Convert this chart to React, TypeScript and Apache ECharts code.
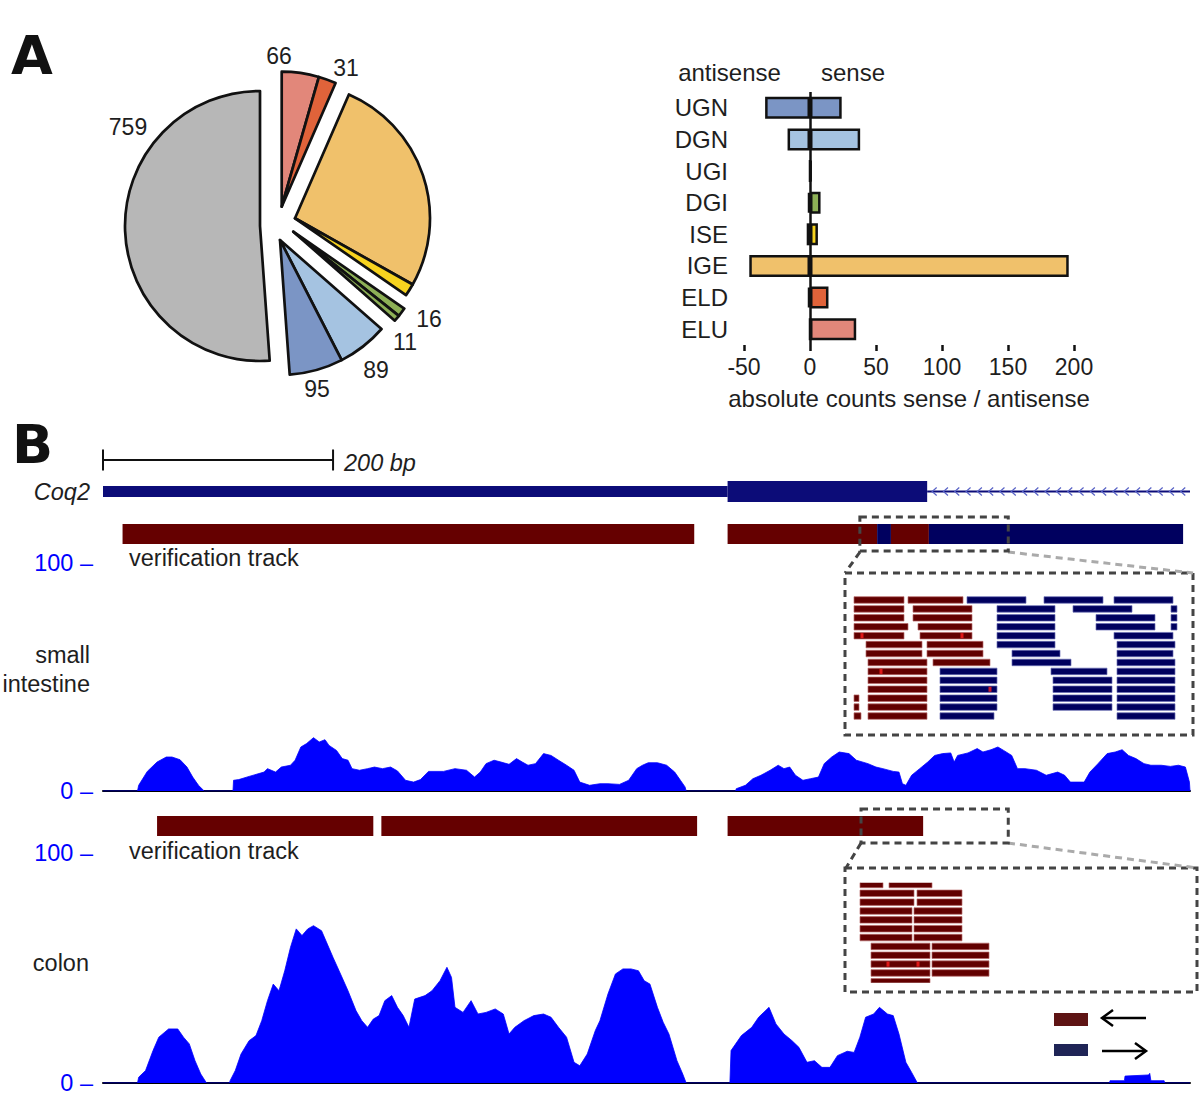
import React, { useEffect, useRef } from 'react';
import * as echarts from 'echarts';

const FONT = '"Liberation Sans", Arial, Helvetica, sans-serif';
const TEXT = '#1e1e1e';
const GENE_BLUE = '#0c0c78';
const VERIF_RED = '#650000';
const VERIF_BLUE = '#00005f';
const COV_BLUE = '#0000ff';

// ---------- Panel A: pie ----------
const pieNames = ['ELU', 'ELD', 'IGE', 'ISE', 'DGI', 'UGI', 'DGN', 'UGN', 'other'];
const pieValues = [66, 31, 395, 22, 16, 11, 89, 95, 759];
const pieShowLabel = [true, true, false, false, true, true, true, true, true];
const pieGroups = [[0, 1], [2, 3], [4, 5], [6, 7], [8]];

// ---------- Panel A: bars ----------
const barCategories = ['UGN', 'DGN', 'UGI', 'DGI', 'ISE', 'IGE', 'ELD', 'ELU'];
const antisenseCounts = [-34, -17, 0, -1.5, -2.5, -46, -1.5, 0];
const senseCounts = [24, 38, 1, 8, 6, 196, 14, 35];
const countAxis = { min: -50, max: 200, interval: 50 };

const catColors: Record<string, string> = {
  UGN: '#7b95c5', DGN: '#a5c3e1', UGI: '#8db056', DGI: '#8db056', ISE: '#f7d31f',
  IGE: '#f0c16b', ELD: '#e0633a', ELU: '#e2877a', other: '#b7b7b7',
};

// ---------- Panel B: genome tracks (bp) ----------
const regionLength = 945;
const scaleBar = [[0, 200]];
const geneStart = [0, 543, 716.5];
const geneEnd = [543, 716.5, 945];
const geneKind = [0, 1, 2]; // 0 UTR, 1 CDS, 2 intron
const intestineVerif = [[17, 514, 0], [543, 673, 0], [673, 685, 1], [685, 718, 0], [718, 939, 1]];
const colonVerif = [[47, 235, 0], [242, 516.5, 0], [543, 713, 0]];
const intestineWindow = [[658, 787]];
const colonWindow = [[659, 787]];

const intestineCoverage = [
  [0, 0], [30, 0], [31, 2.5], [38.5, 8.6], [47, 12.7], [55, 14.9], [60, 14.9], [67, 13.7], [73, 10.5], [78, 6.1], [83, 2.5], [88, 0],
  [113, 0], [113.5, 4.7], [118, 5], [127, 6.4], [140, 8.3], [143, 9.8], [150, 8.3], [155, 10.5], [163, 11.3], [167, 13.5], [172, 19.3],
  [177, 20.8], [183, 23.4], [188, 21.5], [193, 22.5], [196.5, 20], [203, 17.8], [208, 14.2], [213, 13.5], [216.5, 9.8], [223, 9.1],
  [230, 9.8], [236, 10.5], [243, 9.8], [250, 10.5], [256, 8.8], [263, 4.7], [270, 3.9], [276, 5], [283, 8.6], [296, 8.6], [306, 9.8],
  [316, 9.1], [323, 6.1], [328, 8.3], [333, 12], [340, 13.5], [346, 12.7], [353, 11.7], [359.5, 14.2], [364.5, 12.7], [369.5, 11.3],
  [376, 12], [383, 16.4], [389.5, 15.6], [396, 13.5], [403, 11.3], [409.5, 9.1], [414.5, 3.9], [423, 2.5], [432, 3.2], [439, 3.2],
  [449, 2.9], [457, 4.7], [464, 9.8], [469, 11.3], [474, 12.4], [482, 12.4], [490, 11.3], [497, 8.3], [502, 4.7], [506, 1.8], [507, 0],
  [550, 0], [550.5, 1], [558.5, 2.5], [565, 5.4], [572, 6.9], [580, 9.1], [587, 11.3], [592, 9.8], [597, 10.5], [602, 6.9], [608.5, 4.7],
  [615, 5.4], [622, 6.1], [627, 12], [633.5, 14.9], [640, 17.1], [648.5, 16.4], [655, 13.5], [665, 12], [672, 10.5], [678, 9.8],
  [687, 8.6], [692, 8.3], [695, 3.2], [698, 2.5], [703, 6.9], [710, 9.8], [717, 12.7], [723, 15.6], [730, 16.4], [737, 16.7], [740, 12.7],
  [743, 15.6], [752, 16.7], [760, 18.6], [765, 17.1], [772, 18.1], [778, 19.3], [783, 17.8], [790, 15.6], [795, 9.8], [801.5, 9.8],
  [811.5, 9.1], [820, 6.9], [830, 8.3], [836, 6.9], [841, 3.9], [853, 3.9], [858, 8.3], [865, 12], [873, 16.4], [880, 17.1], [886, 18.1],
  [891.5, 15.6], [898, 14.2], [905, 12], [911, 11.3], [920, 11.3], [928, 10.8], [935, 11.3], [941, 10.5], [944.5, 3.9], [945, 0],
];

const colonCoverage = [
  [0, 0], [30, 0], [31, 2.5], [37, 5.4], [43.5, 14.1], [48.5, 19.9], [57, 23.5], [65, 23.5], [70, 19.9], [75, 17], [80, 9.7], [85, 3.9], [90, 0],
  [110, 0], [110.5, 1], [115, 5.4], [120, 12.6], [127, 18.4], [133, 20.6], [138, 27.1], [143, 35.8], [148, 43], [153, 40.1], [158, 48.8],
  [163, 59], [168, 67], [173, 64.1], [178, 67], [183, 68.4], [190, 66.2], [195, 60.4], [200, 54.6], [206.5, 47.4], [213, 40.1], [220, 31.4],
  [225, 27.1], [230, 24.2], [235, 27.8], [240, 29.3], [245, 35.8], [251, 38], [256, 32.9], [261, 29.3], [266, 24.2], [271, 36.5], [280, 38],
  [286, 40.1], [293, 44.5], [299, 50.3], [303, 45.9], [306, 32.9], [313, 30.7], [320, 35.8], [326, 30], [333, 30.7], [341, 32.2], [348, 30],
  [353, 21.3], [358, 24.2], [366, 27.1], [374.5, 29.3], [383, 30], [389.5, 28.6], [396, 24.2], [403, 19.9], [409.5, 9], [414.5, 7.5],
  [421, 12.6], [428, 22.8], [432, 27.1], [439, 38.7], [445.5, 47.4], [452, 49.6], [459, 49.6], [465.5, 48.8], [470.5, 44.5], [475.5, 43],
  [482, 32.9], [487, 26.4], [492, 21.3], [499, 9.7], [504, 3.9], [507, 0],
  [545, 0], [546, 14.1], [555, 20.6], [564, 24.2], [570, 28.6], [579, 32.9], [585, 25.7], [592, 21.3], [599, 18.4], [605, 15.5], [612, 9],
  [618.5, 9.7], [625, 6.8], [632, 6.8], [638.5, 11.9], [647, 13.8], [653, 13.3], [658, 19.9], [663, 28.6], [670, 30], [675, 32.9], [682, 30],
  [687, 29.3], [692, 21.3], [698, 9], [703, 4.6], [708, 0],
  [875, 0], [875.5, 1], [888, 1], [888.5, 3], [909, 3.5], [910, 4.2], [911, 1], [922.5, 1], [923, 0], [945, 0],
];

// inset reads: [start, end, row, strand] (strand 0 = reverse/red, 1 = forward/blue), positions within zoom window
const intestineReads = [
  [14, 64, 0, 0], [68, 123, 0, 0], [127, 186, 0, 1], [204, 263, 0, 1], [274, 333, 0, 1],
  [14, 64, 1, 0], [73, 132, 1, 0], [157, 215, 1, 1], [233, 292, 1, 1], [331, 337, 1, 1],
  [14, 64, 2, 0], [73, 132, 2, 0], [157, 215, 2, 1], [256, 315, 2, 1], [331, 337, 2, 1],
  [14, 68, 3, 0], [78, 132, 3, 0], [157, 215, 3, 1], [256, 315, 3, 1], [331, 337, 3, 1],
  [14, 64, 4, 0], [80, 132, 4, 0], [157, 215, 4, 1], [274, 333, 4, 1],
  [26, 82, 5, 0], [87, 143, 5, 0], [157, 215, 5, 1], [277, 335, 5, 1],
  [26, 82, 6, 0], [87, 143, 6, 0], [172, 220, 6, 1], [277, 333, 6, 1],
  [28, 87, 7, 0], [93, 150, 7, 0], [172, 231, 7, 1], [277, 335, 7, 1],
  [28, 87, 8, 0], [100, 157, 8, 1], [211, 267, 8, 1], [277, 335, 8, 1],
  [28, 87, 9, 0], [100, 157, 9, 1], [213, 272, 9, 1], [277, 335, 9, 1],
  [28, 87, 10, 0], [100, 157, 10, 1], [213, 272, 10, 1], [277, 335, 10, 1],
  [14, 19, 11, 0], [28, 87, 11, 0], [100, 157, 11, 1], [213, 272, 11, 1], [277, 335, 11, 1],
  [14, 19, 12, 0], [28, 87, 12, 0], [100, 157, 12, 1], [213, 272, 12, 1], [277, 335, 12, 1],
  [14, 21, 13, 0], [28, 87, 13, 0], [100, 154, 13, 1], [277, 335, 13, 1],
];
const intestineMismatches = [[22, 4], [122, 4], [41, 8], [150, 10]];

const colonReads = [
  [20, 43, 0, 0], [49, 92, 0, 0],
  [20, 74, 1, 0], [77, 122, 1, 0],
  [20, 74, 2, 0], [77, 122, 2, 0],
  [20, 72, 3, 0], [74, 122, 3, 0],
  [20, 72, 4, 0], [74, 122, 4, 0],
  [20, 72, 5, 0], [74, 122, 5, 0],
  [20, 72, 6, 0], [74, 122, 6, 0],
  [31, 90, 7, 0], [92, 149, 7, 0],
  [31, 90, 8, 0], [92, 149, 8, 0],
  [31, 90, 9, 0], [92, 149, 9, 0],
  [31, 90, 10, 0], [92, 149, 10, 0],
  [31, 90, 11, 0],
];
const colonMismatches = [[48, 9], [78, 9]];

// ---------- layout (not data) ----------
const PIE_R = 135;
const pieGroupCenters = [[281.7, 206.7], [295, 218.3], [293.3, 231.7], [280, 240], [260, 226]];
const pieLabelPos: Record<string, [number, number]> = {
  ELU: [279, 56], ELD: [346, 68], DGI: [429, 319], UGI: [405, 342], DGN: [376, 370], UGN: [317, 389], other: [128, 127],
};

function txt(text: string, x: number, y: number, opts: any = {}) {
  const align = opts.align || 'left';
  return {
    type: 'text', x, y, silent: true,
    style: {
      text, fill: opts.fill || TEXT, fontSize: opts.fontSize || 24, fontFamily: opts.fontFamily || FONT,
      fontWeight: opts.fontWeight || 'normal', fontStyle: opts.fontStyle || 'normal',
      align, textAlign: align, verticalAlign: 'middle', textVerticalAlign: 'middle',
    },
  };
}

const dashDark = { fill: 'none', stroke: '#444', lineWidth: 3, lineDash: [7, 5] };
const dashLight = { fill: 'none', stroke: '#aaa', lineWidth: 3, lineDash: [7, 5] };

export default function App() {
  const ref = useRef<HTMLDivElement>(null);
  useEffect(() => {
    if (!ref.current) return;
    const chart = echarts.init(ref.current, undefined, { renderer: 'svg' });

    const genomeX = (g: number, show = false) => ({
      type: 'value', gridIndex: g, min: 0, max: regionLength, show,
      axisLine: { show, onZero: false, lineStyle: { color: '#000', width: 2 } },
      axisTick: { show: false }, axisLabel: { show: false }, splitLine: { show: false },
    });
    const hiddenY = (g: number, min = 0, max = 1, inverse = false) => ({
      type: 'value', gridIndex: g, min, max, inverse, show: false, splitLine: { show: false },
    });
    const coverageY = (g: number) => ({
      type: 'value', gridIndex: g, min: 0, max: 100, interval: 100,
      axisLine: { show: false }, axisTick: { show: false }, splitLine: { show: false },
      axisLabel: { formatter: '{value} –', color: COV_BLUE, fontSize: 23.5, fontFamily: FONT, margin: 10, showMinLabel: true, showMaxLabel: true },
    });

    const rectTrack = (xi: number, data: number[][]) => ({
      type: 'custom', xAxisIndex: xi, yAxisIndex: xi, silent: true, data,
      renderItem: (params: any, api: any) => {
        const a = api.coord([api.value(0), 0]);
        const b = api.coord([api.value(1), 0]);
        const cs = params.coordSys;
        return {
          type: 'rect', shape: { x: a[0], y: cs.y, width: b[0] - a[0], height: cs.height },
          style: { fill: api.value(2) === 1 ? VERIF_BLUE : VERIF_RED },
        };
      },
    });
    const windowBox = (xi: number, data: number[][]) => ({
      type: 'custom', xAxisIndex: xi, yAxisIndex: xi, silent: true, data, z: 5,
      renderItem: (params: any, api: any) => {
        const a = api.coord([api.value(0), 0]);
        const b = api.coord([api.value(1), 0]);
        const cs = params.coordSys;
        return {
          type: 'rect', shape: { x: a[0], y: cs.y - 7, width: b[0] - a[0], height: cs.height + 14 },
          style: dashDark,
        };
      },
    });
    const readTrack = (xi: number, data: number[][]) => ({
      type: 'custom', xAxisIndex: xi, yAxisIndex: xi, silent: true, clip: true, data,
      renderItem: (params: any, api: any) => {
        const row = api.value(2);
        const a = api.coord([api.value(0), row]);
        const b = api.coord([api.value(1), row]);
        const fwd = api.value(3) === 1;
        const h = 6.5;
        return {
          type: 'rect', shape: { x: a[0], y: a[1] - h / 2, width: b[0] - a[0], height: h },
          style: { fill: fwd ? '#00005e' : '#620000', stroke: fwd ? '#6a6fb5' : '#b86a6a', lineWidth: 0.7 },
        };
      },
    });
    const mismatch = (xi: number, data: number[][]) => ({
      type: 'scatter', xAxisIndex: xi, yAxisIndex: xi, silent: true, data, symbol: 'rect', symbolSize: [3, 5],
      itemStyle: { color: '#ff1f1f' }, z: 6,
    });
    const coverage = (xi: number, data: number[][]) => ({
      type: 'line', xAxisIndex: xi, yAxisIndex: xi, silent: true, data, symbol: 'none',
      lineStyle: { width: 0.8, color: COV_BLUE }, areaStyle: { color: COV_BLUE, opacity: 1 }, z: 3,
    });

    const pieSeries = pieGroups.map((grp, gi) => ({
      type: 'pie', center: pieGroupCenters[gi], radius: PIE_R, startAngle: 90, clockwise: true,
      silent: true, avoidLabelOverlap: false,
      label: { show: true, position: 'outside', formatter: '{c}', fontSize: 23, color: TEXT, fontFamily: FONT },
      labelLine: { show: false },
      labelLayout: (p: any) => {
        const pos = pieLabelPos[pieNames[p.dataIndex]];
        if (!pos) return {};
        return { x: pos[0], y: pos[1], align: 'center', verticalAlign: 'middle' };
      },
      emphasis: { disabled: true },
      data: pieNames.map((n, i) =>
        grp.includes(i)
          ? { name: n, value: pieValues[i], itemStyle: { color: catColors[n], borderColor: '#111', borderWidth: 2.7 }, label: { show: pieShowLabel[i] } }
          : { name: n, value: pieValues[i], itemStyle: { color: 'rgba(0,0,0,0)', borderWidth: 0 }, label: { show: false } }
      ),
    }));

    const option: any = {
      animation: false,
      backgroundColor: '#ffffff',
      textStyle: { fontFamily: FONT },
      grid: [
        { left: 744, top: 92, width: 330, height: 253 },      // 0 bars
        { left: 103, top: 450, width: 1087, height: 20 },     // 1 scale bar
        { left: 103, top: 481, width: 1087, height: 21 },     // 2 gene
        { left: 103, top: 524, width: 1087, height: 20 },     // 3 verification intestine
        { left: 103, top: 563, width: 1087, height: 228 },    // 4 coverage intestine
        { left: 103, top: 816, width: 1087, height: 20 },     // 5 verification colon
        { left: 103, top: 853, width: 1087, height: 230 },    // 6 coverage colon
        { left: 840, top: 595.5, width: 360, height: 125 },   // 7 inset intestine
        { left: 840, top: 882.7, width: 360, height: 100 },   // 8 inset colon
      ],
      xAxis: [
        {
          type: 'value', gridIndex: 0, min: countAxis.min, max: countAxis.max, interval: countAxis.interval,
          axisLine: { onZero: false, lineStyle: { color: '#111', width: 2.5 } },
          axisTick: { show: true, length: 6, lineStyle: { color: '#111', width: 2.5 } },
          axisLabel: { fontSize: 23, color: TEXT, fontFamily: FONT, margin: 10 },
          splitLine: { show: false },
          name: 'absolute counts sense / antisense', nameLocation: 'middle', nameGap: 41,
          nameTextStyle: { fontSize: 24, color: TEXT, fontFamily: FONT },
        },
        genomeX(1), genomeX(2), genomeX(3), genomeX(4, true), genomeX(5), genomeX(6, true),
        { type: 'value', gridIndex: 7, min: 0, max: 360, show: false, splitLine: { show: false } },
        { type: 'value', gridIndex: 8, min: 0, max: 360, show: false, splitLine: { show: false } },
      ],
      yAxis: [
        {
          type: 'category', gridIndex: 0, data: barCategories, inverse: true,
          axisLine: { show: false }, axisTick: { show: false },
          axisLabel: { fontSize: 24, color: TEXT, fontFamily: FONT, margin: 16 },
        },
        hiddenY(1), hiddenY(2), hiddenY(3), coverageY(4), hiddenY(5), coverageY(6),
        hiddenY(7, -0.5, 13.5, true), hiddenY(8, -0.2, 11.1, true),
      ],
      series: [
        ...pieSeries,
        {
          type: 'bar', name: 'antisense', xAxisIndex: 0, yAxisIndex: 0, stack: 'counts', barWidth: 22, silent: true,
          data: antisenseCounts.map((v, i) => ({ value: v, itemStyle: { color: catColors[barCategories[i]] } })),
          itemStyle: { borderColor: '#111', borderWidth: 2.5 },
        },
        {
          type: 'bar', name: 'sense', xAxisIndex: 0, yAxisIndex: 0, stack: 'counts', barWidth: 22, silent: true,
          data: senseCounts.map((v, i) => ({ value: v, itemStyle: { color: catColors[barCategories[i]] } })),
          itemStyle: { borderColor: '#111', borderWidth: 2.5 },
          markLine: {
            silent: true, symbol: 'none', label: { show: false },
            lineStyle: { color: '#111', width: 2.5, type: 'solid' }, data: [{ xAxis: 0 }],
          },
        },
        {
          type: 'custom', xAxisIndex: 1, yAxisIndex: 1, silent: true, data: scaleBar,
          renderItem: (params: any, api: any) => {
            const a = api.coord([api.value(0), 0]);
            const b = api.coord([api.value(1), 0]);
            const cs = params.coordSys;
            const cy = cs.y + cs.height / 2;
            const st = { stroke: '#111', lineWidth: 2 };
            return {
              type: 'group', children: [
                { type: 'line', shape: { x1: a[0], y1: cy, x2: b[0], y2: cy }, style: st },
                { type: 'line', shape: { x1: a[0], y1: cy - 10.5, x2: a[0], y2: cy + 10.5 }, style: st },
                { type: 'line', shape: { x1: b[0], y1: cy - 10.5, x2: b[0], y2: cy + 10.5 }, style: st },
                {
                  type: 'text', x: b[0] + 11, y: cy + 3,
                  style: {
                    text: `${api.value(1) - api.value(0)} bp`, fill: TEXT, fontSize: 23.5, fontFamily: FONT, fontStyle: 'italic',
                    align: 'left', textAlign: 'left', verticalAlign: 'middle', textVerticalAlign: 'middle',
                  },
                },
              ],
            };
          },
        },
        {
          type: 'custom', xAxisIndex: 2, yAxisIndex: 2, silent: true,
          data: geneStart.map((s, i) => [s, geneEnd[i], geneKind[i]]),
          renderItem: (params: any, api: any) => {
            const a = api.coord([api.value(0), 0]);
            const b = api.coord([api.value(1), 0]);
            const cs = params.coordSys;
            const cy = cs.y + cs.height / 2;
            const kind = api.value(2);
            if (kind === 1) {
              return { type: 'rect', shape: { x: a[0], y: cs.y, width: b[0] - a[0], height: cs.height }, style: { fill: GENE_BLUE } };
            }
            if (kind === 0) {
              return { type: 'rect', shape: { x: a[0], y: cy - 5.5, width: b[0] - a[0], height: 11 }, style: { fill: GENE_BLUE } };
            }
            const children: any[] = [
              { type: 'line', shape: { x1: a[0], y1: cy, x2: b[0], y2: cy }, style: { stroke: GENE_BLUE, lineWidth: 2 } },
            ];
            for (let x = a[0] + 6; x < b[0] - 3; x += 11.3) {
              children.push({
                type: 'polyline', shape: { points: [[x + 3.5, cy - 4], [x - 1, cy], [x + 3.5, cy + 4]] },
                style: { stroke: '#5862c6', lineWidth: 1.2, fill: 'none' },
              });
            }
            return { type: 'group', children };
          },
        },
        rectTrack(3, intestineVerif),
        windowBox(3, intestineWindow),
        coverage(4, intestineCoverage),
        rectTrack(5, colonVerif),
        windowBox(5, colonWindow),
        coverage(6, colonCoverage),
        readTrack(7, intestineReads),
        mismatch(7, intestineMismatches),
        readTrack(8, colonReads),
        mismatch(8, colonMismatches),
      ],
      graphic: [
        txt('A', 11, 55, { fontSize: 54, fontWeight: 900, fill: '#111', fontFamily: '"DejaVu Sans", "Liberation Sans", sans-serif' }),
        txt('B', 12, 444, { fontSize: 54, fontWeight: 900, fill: '#111', fontFamily: '"DejaVu Sans", "Liberation Sans", sans-serif' }),
        txt('antisense', 729.5, 72, { align: 'center' }),
        txt('sense', 853, 72, { align: 'center' }),
        txt('Coq2', 90, 492, { align: 'right', fontStyle: 'italic', fontSize: 23.5 }),
        txt('verification track', 129, 558, { fontSize: 23.5 }),
        txt('small', 90, 655, { align: 'right', fontSize: 23.5 }),
        txt('intestine', 90, 684, { align: 'right', fontSize: 23.5 }),
        txt('verification track', 129, 851, { fontSize: 23.5 }),
        txt('colon', 89, 963, { align: 'right', fontSize: 23.5 }),
        // inset frames and connectors
        { type: 'rect', silent: true, shape: { x: 845, y: 573, width: 348, height: 162 }, style: dashDark },
        { type: 'line', silent: true, shape: { x1: 860, y1: 552, x2: 845, y2: 573 }, style: dashDark },
        { type: 'line', silent: true, shape: { x1: 1008, y1: 552, x2: 1193, y2: 573 }, style: dashLight },
        { type: 'rect', silent: true, shape: { x: 845, y: 868, width: 352, height: 124 }, style: dashDark },
        { type: 'line', silent: true, shape: { x1: 861, y1: 843, x2: 846, y2: 868 }, style: dashDark },
        { type: 'line', silent: true, shape: { x1: 1008, y1: 843, x2: 1197, y2: 868 }, style: dashLight },
        // strand legend
        { type: 'rect', silent: true, shape: { x: 1054, y: 1013, width: 34, height: 13 }, style: { fill: '#5e1414' } },
        { type: 'line', silent: true, shape: { x1: 1103, y1: 1018, x2: 1146, y2: 1018 }, style: { stroke: '#000', lineWidth: 2.5 } },
        { type: 'polyline', silent: true, shape: { points: [[1113, 1010], [1102, 1018], [1113, 1026]] }, style: { stroke: '#000', lineWidth: 2.5, fill: 'none' } },
        { type: 'rect', silent: true, shape: { x: 1054, y: 1044, width: 34, height: 12 }, style: { fill: '#1f2456' } },
        { type: 'line', silent: true, shape: { x1: 1102, y1: 1051, x2: 1145, y2: 1051 }, style: { stroke: '#000', lineWidth: 2.5 } },
        { type: 'polyline', silent: true, shape: { points: [[1135, 1043], [1146, 1051], [1135, 1059]] }, style: { stroke: '#000', lineWidth: 2.5, fill: 'none' } },
      ],
    };

    chart.setOption(option);
    return () => chart.dispose();
  }, []);

  return <div ref={ref} style={{ position: 'absolute', left: 0, top: 0, width: 1200, height: 1101, background: '#fff' }} />;
}
